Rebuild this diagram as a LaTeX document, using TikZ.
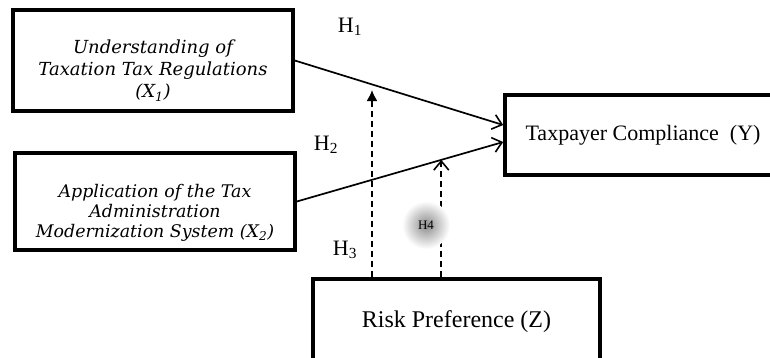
\documentclass[tikz,border=0pt]{standalone}
\usepackage{fontspec}
\setmainfont{Liberation Serif}
\newfontfamily\boxit{DejaVu Serif}
\usetikzlibrary{arrows.meta,calc}
\tikzset{
  box/.style={draw, line width=3.6pt, rectangle, align=center, inner sep=0pt},
  ittext/.style={align=center, inner sep=0pt, font=\boxit\itshape\fontsize{18}{22}\selectfont},
  rmbox/.style={box, font=\fontsize{22}{26}\selectfont},
  path/.style={line width=1.7pt, -{Straight Barb[length=9pt,width=15pt,line width=1.6pt]}},
  mod/.style={line width=1.7pt, dash pattern=on 6pt off 4pt},
  hlab/.style={font=\fontsize{22}{24}\selectfont, inner sep=0pt},
}
\begin{document}
\begin{tikzpicture}[x=1pt,y=-1pt]
\useasboundingbox (0,0) rectangle (770,357);
\clip (0,0) rectangle (770,357);
\fill[white] (0,0) rectangle (770,357);
\node[box, minimum width=280pt, minimum height=101pt] (x1) at (153,60.5) {};
\node[ittext] (x1t) at ([yshift=-10pt]x1.center)
  {Understanding of\\Taxation Tax Regulations\\(X\textsubscript{1})};
\node[box, minimum width=280pt, minimum height=97pt] (x2) at (155,201.5) {};
\node[ittext, font=\boxit\itshape\fontsize{17.4}{20}\selectfont] (x2t) at ([yshift=-11pt]x2.center)
  {Application of the Tax\\Administration\\Modernization System (X\textsubscript{2})};
\node[rmbox, minimum width=276pt, minimum height=80pt] (y) at (643,135)
  {Taxpayer Compliance\ \ (Y)};
\node[rmbox, font=\fontsize{24}{28}\selectfont, minimum width=287pt, minimum height=86pt] (z) at (456.5,322)
  {Risk Preference (Z)};
\draw[path] (x1.east) -- ([yshift=10pt]y.west);
\draw[path] (x2.east) -- ([yshift=-7pt]y.west);
\path (x2.east) -- ([yshift=-7pt]y.west) coordinate[pos=0.7] (t2);
\coordinate (t1) at (372,90);
\draw[mod, -{Latex[length=11pt,width=11pt]}] (t1 |- z.north) -- (t1);
\draw[mod, -{Straight Barb[length=9pt,width=15pt,line width=1.6pt]}] (t2 |- z.north) -- (t2);
\node[hlab] (h1) at (350,27) {H\textsubscript{1}};
\node[hlab] (h2) at (326,145) {H\textsubscript{2}};
\node[hlab] (h3) at (345,250) {H\textsubscript{3}};
\shade[inner color=black!45, outer color=white] (426,225) circle (24);
\node[font=\fontsize{13}{14}\selectfont, inner sep=0pt] (h4) at (426,225) {H4};
\end{tikzpicture}
\end{document}
